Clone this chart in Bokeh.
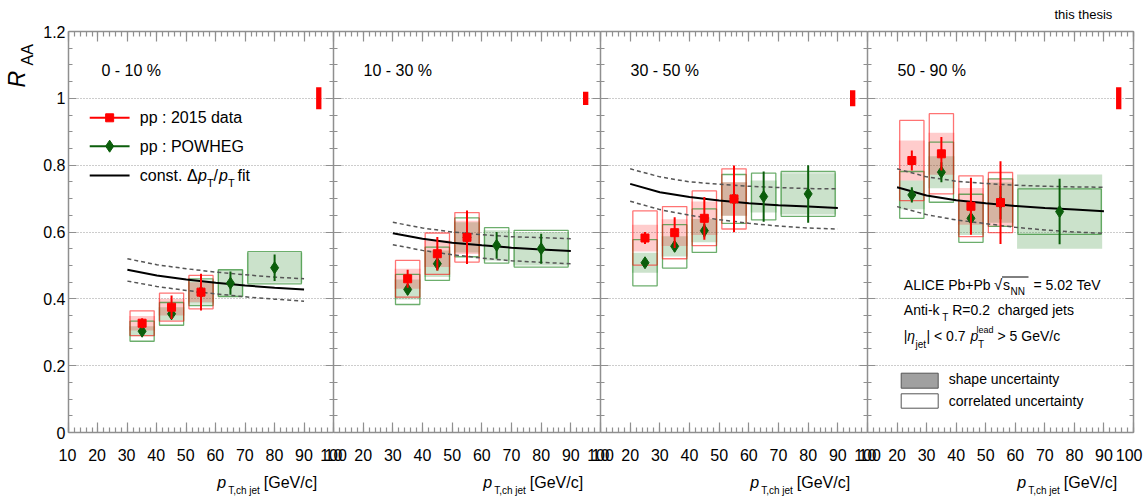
import math
from bokeh.plotting import figure
from bokeh.layouts import row, column
from bokeh.models import (LinearAxis, Range1d, FixedTicker, Label, Grid,
                          CustomJSTickFormatter)
from bokeh.embed import file_html
from bokeh.resources import INLINE

FONT = "Liberation Sans"

panel_titles = ["0 - 10 %", "10 - 30 %", "30 - 50 %", "50 - 90 %"]

# ---- pp : 2015 data reference (red squares) ----
data_pt = [[35, 45, 55], [35, 45, 55], [25, 35, 45, 55], [25, 35, 45, 55]]
data_lo = [[30, 40, 50], [30, 40, 50], [20, 30, 40, 50], [20, 30, 40, 50]]
data_hi = [[40, 50, 60], [40, 50, 60], [30, 40, 50, 60], [30, 40, 50, 60]]
data_val = [[0.327, 0.375, 0.420], [0.460, 0.535, 0.584],
            [0.582, 0.598, 0.641, 0.699], [0.814, 0.834, 0.677, 0.688]]
data_stat = [[0.015, 0.035, 0.055], [0.027, 0.050, 0.080],
             [0.018, 0.046, 0.064, 0.100], [0.030, 0.050, 0.085, 0.124]]
data_shape = [[0.022, 0.025, 0.030], [0.030, 0.040, 0.050],
              [0.040, 0.040, 0.050, 0.050], [0.060, 0.063, 0.055, 0.072]]
data_corr = [[0.037, 0.042, 0.050], [0.055, 0.062, 0.074],
             [0.081, 0.078, 0.082, 0.090], [0.120, 0.120, 0.091, 0.090]]

# ---- pp : POWHEG reference (green diamonds) ----
pow_pt = [[35, 45, 55, 65, 80], [35, 45, 55, 65, 80],
          [25, 35, 45, 55, 65, 80], [25, 35, 45, 55, 75]]
pow_lo = [[30, 40, 50, 60, 70], [30, 40, 50, 60, 70],
          [20, 30, 40, 50, 60, 70], [20, 30, 40, 50, 60]]
pow_hi = [[40, 50, 60, 70, 90], [40, 50, 60, 70, 90],
          [30, 40, 50, 60, 70, 90], [30, 40, 50, 60, 90]]
pow_val = [[0.303, 0.355, 0.420, 0.447, 0.493], [0.428, 0.505, 0.584, 0.560, 0.550],
           [0.508, 0.557, 0.604, 0.699, 0.706, 0.714], [0.711, 0.779, 0.641, 0.688, 0.661]]
pow_stat = [[0.010, 0.015, 0.030, 0.035, 0.040], [0.015, 0.020, 0.030, 0.040, 0.045],
            [0.010, 0.015, 0.020, 0.030, 0.075, 0.086], [0.023, 0.030, 0.040, 0.050, 0.098]]
pow_shape = [[0.015, 0.020, 0.035, 0.040, 0.045], [0.030, 0.040, 0.045, 0.045, 0.050],
             [0.030, 0.030, 0.035, 0.050, 0.048, 0.062], [0.043, 0.048, 0.050, 0.060, 0.111]]
pow_corr = [[0.030, 0.034, 0.040, 0.040, 0.048], [0.045, 0.050, 0.058, 0.053, 0.055],
            [0.069, 0.065, 0.065, 0.073, 0.070, 0.067], [0.070, 0.090, 0.072, 0.071, 0.068]]

# ---- const. dpT/pT fit (central, upper, lower) ----
fit_pt = [[30, 40, 50, 60, 70, 80, 90], [30, 40, 50, 60, 70, 80, 90],
          [20, 30, 40, 50, 60, 70, 80, 90], [20, 30, 40, 50, 60, 70, 80, 90]]
fit_val = [[0.487, 0.470, 0.458, 0.448, 0.440, 0.433, 0.428],
           [0.596, 0.580, 0.568, 0.560, 0.553, 0.548, 0.543],
           [0.744, 0.719, 0.705, 0.694, 0.686, 0.680, 0.676, 0.672],
           [0.734, 0.709, 0.695, 0.686, 0.678, 0.672, 0.667, 0.662]]
fit_up = [[0.520, 0.502, 0.490, 0.480, 0.472, 0.465, 0.460],
          [0.629, 0.612, 0.600, 0.592, 0.586, 0.583, 0.580],
          [0.789, 0.765, 0.750, 0.743, 0.737, 0.733, 0.730, 0.729],
          [0.789, 0.765, 0.752, 0.745, 0.740, 0.737, 0.735, 0.734]]
fit_dn = [[0.453, 0.437, 0.425, 0.415, 0.406, 0.399, 0.393],
          [0.562, 0.545, 0.532, 0.522, 0.514, 0.509, 0.505],
          [0.692, 0.667, 0.650, 0.637, 0.626, 0.618, 0.612, 0.609],
          [0.676, 0.652, 0.636, 0.625, 0.614, 0.606, 0.600, 0.596]]

# ---- global normalisation uncertainty ----
norm_pt = 95
norm_unc = [0.033, 0.020, 0.024, 0.033]

x_ticks = [10, 20, 30, 40, 50, 60, 70, 80, 90, 100]
y_ticks = [0, 0.2, 0.4, 0.6, 0.8, 1.0, 1.2]

RED = "#ff0000"
GREEN = "#0b5e0b"
GREEN_BOX = "#2e8b2e"
AXC = "#8f8f8f"

TOP_STRIP = 20
PB_TOP = 11
FH = 401
PB_BOT = 10
PH = PB_TOP + FH + PB_BOT
BOT_STRIP = 56
YFIG_W = 40
LEFT0 = 27
widths = [266, 267, 267, 266]
PAGE_W = 1143
panel_left = [YFIG_W + LEFT0]
for w in widths[:-1]:
    panel_left.append(panel_left[-1] + w)


def fx(px, fw):
    return 10 + px * 90.0 / fw


def fy(py):
    return py * 1.2 / FH


def lab(p, x, y, text, size=16, style="normal", align="left", angle=0.0,
        color="black"):
    # (x, y): screen position of the text's vertical middle
    p.add_layout(Label(x=x, y=y, x_units="screen", y_units="screen", text=text,
                       text_font=FONT, text_font_size=f"{size}px",
                       text_font_style=style, text_align=align,
                       text_baseline="middle", angle=angle,
                       text_color=color))


def blank_fig(w, h):
    f = figure(width=w, height=h, x_range=Range1d(0, 1), y_range=Range1d(0, 1),
               output_backend="svg", toolbar_location=None,
               x_axis_location=None, y_axis_location=None, min_border=0)
    f.outline_line_color = None
    f.grid.visible = False
    f.background_fill_color = "white"
    f.border_fill_color = "white"
    return f


def style_axis(ax, labels, tick_len=10, minor_len=5):
    ax.axis_line_color = AXC
    ax.axis_line_width = 1.5
    ax.major_tick_line_color = AXC
    ax.minor_tick_line_color = AXC
    ax.major_tick_in = tick_len
    ax.major_tick_out = 0
    ax.minor_tick_in = minor_len
    ax.minor_tick_out = 0
    ax.major_tick_line_width = 1.2
    ax.minor_tick_line_width = 1.2
    if labels:
        ax.major_label_text_font = FONT
        ax.major_label_text_font_size = "16px"
        ax.major_label_text_color = "black"
    else:
        ax.major_label_text_font_size = "0px"
        ax.major_label_standoff = 0
        ax.formatter = CustomJSTickFormatter(code="return ''")


figs = []
for i in range(4):
    fw = widths[i]
    lb = LEFT0 if i == 0 else 0
    rb = 4 if i == 3 else 0
    p = figure(width=fw + lb + rb, height=PH, x_range=Range1d(10, 100),
               y_range=Range1d(0, 1.2), output_backend="svg",
               toolbar_location=None, x_axis_location=None,
               y_axis_location=None, min_border_left=lb, min_border_right=rb,
               min_border_top=PB_TOP, min_border_bottom=PB_BOT)
    p.outline_line_color = None
    p.background_fill_color = "white"
    p.border_fill_color = "white"
    p.grid.visible = False

    xt = FixedTicker(ticks=x_ticks, minor_ticks=list(range(10, 101, 2)))
    yt = FixedTicker(ticks=y_ticks, minor_ticks=[round(0.05 * k, 2) for k in range(25)])

    bottom = LinearAxis(ticker=xt)
    style_axis(bottom, False)
    p.add_layout(bottom, "below")
    top = LinearAxis(ticker=xt)
    style_axis(top, False)
    p.add_layout(top, "above")

    left = LinearAxis(ticker=yt)
    style_axis(left, i == 0, 8, 4)
    if i == 0:
        left.major_label_standoff = 3
        left.formatter = CustomJSTickFormatter(
            code="return String(Math.round(tick*10)/10)")
    p.add_layout(left, "left")
    right = LinearAxis(ticker=yt)
    style_axis(right, False, 8, 4)
    p.add_layout(right, "right")

    p.add_layout(Grid(dimension=1, ticker=FixedTicker(ticks=[0.2, 0.4, 0.6, 0.8, 1.0]),
                      grid_line_color="#9a9a9a", grid_line_dash="1 2",
                      grid_line_width=1))

    # shape uncertainty boxes
    p.quad(left=[a + 0.6 for a in pow_lo[i]], right=[b - 0.6 for b in pow_hi[i]],
           bottom=[v - s for v, s in zip(pow_val[i], pow_shape[i])],
           top=[v + s for v, s in zip(pow_val[i], pow_shape[i])],
           fill_color=GREEN_BOX, fill_alpha=0.25, line_color=None)
    p.quad(left=[a + 0.6 for a in data_lo[i]], right=[b - 0.6 for b in data_hi[i]],
           bottom=[v - s for v, s in zip(data_val[i], data_shape[i])],
           top=[v + s for v, s in zip(data_val[i], data_shape[i])],
           fill_color=RED, fill_alpha=0.2, line_color=None)
    # correlated uncertainty boxes
    p.quad(left=[a + 0.9 for a in pow_lo[i]], right=[b - 0.9 for b in pow_hi[i]],
           bottom=[v - s for v, s in zip(pow_val[i], pow_corr[i])],
           top=[v + s for v, s in zip(pow_val[i], pow_corr[i])],
           fill_color=None, line_color=GREEN_BOX, line_alpha=0.7, line_width=1.3)
    p.quad(left=[a + 0.9 for a in data_lo[i]], right=[b - 0.9 for b in data_hi[i]],
           bottom=[v - s for v, s in zip(data_val[i], data_corr[i])],
           top=[v + s for v, s in zip(data_val[i], data_corr[i])],
           fill_color=None, line_color=RED, line_alpha=0.55, line_width=1.3)

    # fit
    p.line(fit_pt[i], fit_up[i], line_color="#555555", line_width=1.5, line_dash="4 3")
    p.line(fit_pt[i], fit_dn[i], line_color="#555555", line_width=1.5, line_dash="4 3")
    p.line(fit_pt[i], fit_val[i], line_color="black", line_width=2)

    # POWHEG points
    p.segment(x0=pow_pt[i], x1=pow_pt[i],
              y0=[v - e for v, e in zip(pow_val[i], pow_stat[i])],
              y1=[v + e for v, e in zip(pow_val[i], pow_stat[i])],
              line_color=GREEN, line_width=2)
    p.scatter(pow_pt[i], pow_val[i], marker="diamond", size=12,
              fill_color=GREEN, line_color=GREEN)
    # data points
    p.segment(x0=data_pt[i], x1=data_pt[i],
              y0=[v - e for v, e in zip(data_val[i], data_stat[i])],
              y1=[v + e for v, e in zip(data_val[i], data_stat[i])],
              line_color=RED, line_width=2)
    p.scatter(data_pt[i], data_val[i], marker="square", size=8,
              fill_color=RED, line_color=RED)

    # normalisation uncertainty
    p.quad(left=[norm_pt - 0.9], right=[norm_pt + 0.9],
           bottom=[1 - norm_unc[i]], top=[1 + norm_unc[i]],
           fill_color=RED, line_color=None)

    # panel title
    lab(p, 33 if i == 0 else 30, 362, panel_titles[i], size=16)
    figs.append(p)

# ---- panel 1 legend ----
p1 = figs[0]
fw = widths[0]
leg_y = [314.7, 286.3, 257.0]
leg_col = [RED, GREEN, "black"]
for yy, cc in zip(leg_y, leg_col):
    p1.segment(x0=[fx(21.3, fw)], x1=[fx(61.3, fw)], y0=[fy(yy)], y1=[fy(yy)],
               line_color=cc, line_width=2)
p1.scatter([fx(41.3, fw)], [fy(leg_y[0])], marker="square", size=8, color=RED)
p1.scatter([fx(41.3, fw)], [fy(leg_y[1])], marker="diamond", size=12, color=GREEN)
lab(p1, 71.3, 314.8, "pp : 2015 data")
lab(p1, 71.3, 286.5, "pp : POWHEG")
lab(p1, 71.3, 256.8, "const. \u0394")
lab(p1, 129.5, 256.8, "p", style="italic")
lab(p1, 138.5, 249.5, "T", size=11)
lab(p1, 145.0, 256.8, "/")
lab(p1, 150.5, 256.8, "p", style="italic")
lab(p1, 159.5, 249.5, "T", size=11)
lab(p1, 169.0, 256.8, "fit")

# ---- panel 4: text + uncertainty legend ----
p4 = figs[3]
fw4 = widths[3]
lab(p4, 36.3, 147.7, "ALICE Pb+Pb", size=14)
lab(p4, 126.5, 148.5, "\u221a", size=15)
lab(p4, 135.5, 147.7, "s", size=14)
lab(p4, 143.0, 141.2, "NN", size=10)
lab(p4, 166.0, 147.7, "= 5.02 TeV", size=14)
p4.segment(x0=[fx(134.5, fw4)], x1=[fx(161, fw4)], y0=[fy(155.5)], y1=[fy(155.5)],
           line_color="black", line_width=1)
lab(p4, 36.3, 122.7, "Anti-k", size=14)
lab(p4, 74.7, 115.5, "T", size=10)
lab(p4, 84.7, 122.7, "R=0.2\u00a0 charged jets", size=14)
lab(p4, 36.3, 96.3, "|", size=14)
lab(p4, 39.7, 96.3, "\u03b7", size=14, style="italic")
lab(p4, 48.0, 88.2, "jet", size=10)
lab(p4, 59.0, 96.3, "| < 0.7", size=14)
lab(p4, 103.0, 96.3, "p", size=14, style="italic")
lab(p4, 110.5, 88.2, "T", size=10)
lab(p4, 109.0, 102.5, "lead", size=9)
lab(p4, 130.0, 96.3, "> 5 GeV/c", size=14)

p4.quad(left=[fx(33.7, fw4)], right=[fx(70.7, fw4)], bottom=[fy(44.3)], top=[fy(59.3)],
        fill_color="#a0a0a0", line_color="#555555", line_width=1)
p4.quad(left=[fx(33.7, fw4)], right=[fx(70.7, fw4)], bottom=[fy(24.3)], top=[fy(38.7)],
        fill_color="white", line_color="#555555", line_width=1)
lab(p4, 81.3, 53.7, "shape uncertainty", size=14)
lab(p4, 81.3, 32.0, "correlated uncertainty", size=14)

# ---- y-axis title strip ----
yfig = blank_fig(YFIG_W, PH)
lab(yfig, 16, 345, "R", size=23, style="italic", angle=math.pi / 2)
lab(yfig, 27, 367, "AA", size=16, angle=math.pi / 2)

# ---- top strip ----
tfig = blank_fig(PAGE_W, TOP_STRIP)
lab(tfig, 1054, 6.5, "this thesis", size=13)

# ---- bottom strip: x tick labels and x titles ----
bfig = blank_fig(PAGE_W, BOT_STRIP)
for i in range(4):
    for t in x_ticks:
        xs = panel_left[i] + (t - 10) * widths[i] / 90.0
        if xs + 14 > PAGE_W:
            lab(bfig, PAGE_W - 1, 44, str(t), size=16, align="right")
        else:
            lab(bfig, xs, 44, str(t), size=16, align="center")
    x0 = panel_left[i]
    lab(bfig, x0 + 149.7, 16, "p", size=16, style="italic")
    lab(bfig, x0 + 160.7, 8.5, "T,ch jet", size=10)
    lab(bfig, x0 + 196.3, 16, "[GeV/c]", size=16)

layout = column(tfig, row(yfig, *figs, spacing=0), bfig, spacing=0)
open("out.html", "w").write(file_html(layout, INLINE))
